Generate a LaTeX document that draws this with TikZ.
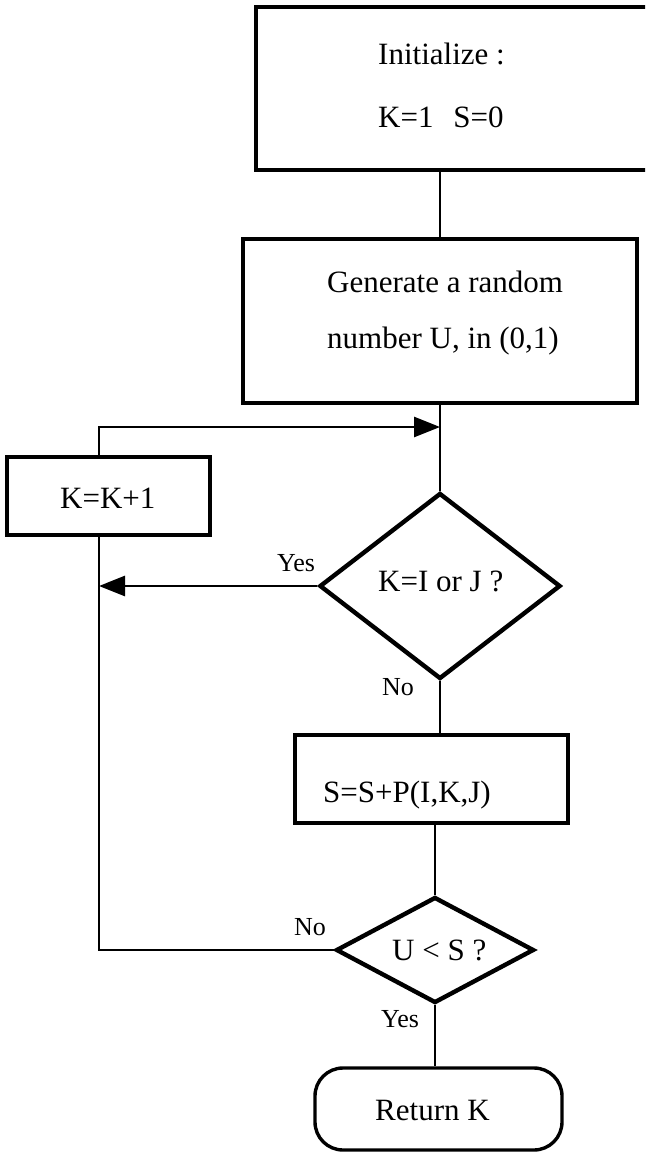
\documentclass[tikz,border=0pt]{standalone}
\usepackage{fontspec}
\setmainfont{Liberation Serif}
\usetikzlibrary{shapes.geometric,arrows.meta}
\begin{document}
\begin{tikzpicture}[x=1pt,y=-1pt,
  box/.style={draw,line width=3.4pt,inner sep=0pt,rectangle},
  dia/.style={draw,line width=4.4pt,inner sep=0pt,diamond},
  term/.style={draw,line width=3.4pt,inner sep=0pt,rectangle,rounded corners=28pt},
  conn/.style={line width=2.8pt},
  arr/.style={conn,-{Triangle[length=26pt,width=20pt]}},
  txt/.style={anchor=base west,inner sep=0pt,font=\fontsize{31}{37}\selectfont},
  lbl/.style={anchor=base west,inner sep=0pt,font=\fontsize{26}{31}\selectfont}]
\clip (0,0) rectangle (645,1155);
\fill[white] (0,0) rectangle (645,1155);
% shapes
\node[box,minimum width=404pt,minimum height=163pt] (init) at (458,88.5) {};
\node[box,minimum width=394pt,minimum height=164pt] (gen) at (440,321) {};
\node[box,minimum width=203pt,minimum height=78pt] (kk) at (108.5,496) {};
\node[dia,minimum width=241pt,minimum height=186pt] (d1) at (440,586) {};
\node[box,minimum width=273pt,minimum height=88pt] (sbox) at (431.5,779) {};
\node[dia,minimum width=198pt,minimum height=106pt] (d2) at (435,950) {};
\node[term,minimum width=247pt,minimum height=82pt] (ret) at (438.5,1109) {};
% texts
\node[txt] (t1) at (378,65) {Initialize :};
\node[txt] (t2) at (378,128) {K=1\hspace{12pt} S=0};
\node[txt] (t3) at (327,293) {Generate a random};
\node[txt] (t4) at (327,348) {number U, in (0,1)};
\node[txt] (t5) at (60,508) {K=K+1};
\node[txt] (t6) at (378,591) {K=I or J ?};
\node[txt] (t7) at (323,802) {S=S+P(I,K,J)};
\node[txt] (t8) at (392,960) {U < S ?};
\node[txt] (t9) at (375,1120) {Return K};
\node[lbl] (y1) at (277,571) {Yes};
\node[lbl] (n1) at (382,695) {No};
\node[lbl] (n2) at (294,935) {No};
\node[lbl] (y2) at (381,1027) {Yes};
% helper coordinates
\coordinate (L) at (99,0);
\coordinate (top) at (0,427);
% connectors
\draw[conn] (gen.north) -- (gen.north |- init.south);
\draw[conn] (gen.south) -- (d1.north);
\draw[conn] (d1.south) -- (d1.south |- sbox.north);
\draw[conn] (d2.north |- sbox.south) -- (d2.north);
\draw[conn] (d2.south) -- (d2.south |- ret.north);
\draw[arr] (d1.west) -- (d1.west -| L);
\draw[conn] (d2.west) -- (d2.west -| L) -- (kk.south -| L);
\draw[arr] (kk.north -| L) -- (top -| L) -- (top -| gen.south);
\end{tikzpicture}
\end{document}
